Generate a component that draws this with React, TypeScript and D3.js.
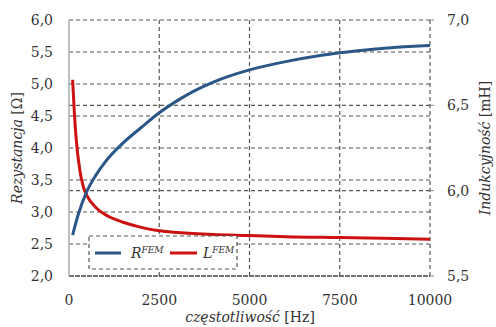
import React from 'react'
import * as d3 from 'd3'

// frequency [Hz] and resistance [Ohm]
const rFreq = [100, 250, 500, 750, 1000, 1500, 2000, 2500, 3000, 3500, 4000, 5000, 6000, 7000, 8000, 9000, 10000]
const rValues = [2.64, 2.95, 3.33, 3.58, 3.78, 4.08, 4.32, 4.55, 4.74, 4.9, 5.03, 5.22, 5.35, 5.45, 5.52, 5.57, 5.6]

// frequency [Hz] and inductance [mH]
const lFreq = [100, 150, 200, 300, 400, 500, 750, 1000, 1500, 2000, 2500, 3000, 4000, 5000, 6000, 7500, 10000]
const lValues = [6.65, 6.45, 6.3, 6.12, 6.02, 5.97, 5.9, 5.86, 5.815, 5.785, 5.765, 5.755, 5.743, 5.737, 5.73, 5.725, 5.716]

const xTicks = [0, 2500, 5000, 7500, 10000]
const leftTicks = [2.0, 2.5, 3.0, 3.5, 4.0, 4.5, 5.0, 5.5, 6.0]
const rightTicks = [5.5, 6.0, 6.5, 7.0]

const fmt = (v: number) => v.toFixed(1).replace('.', ',')

export default function App() {
  const width = 496
  const height = 327
  const m = { top: 20, right: 66, bottom: 51, left: 69 }

  const x = d3.scaleLinear().domain([0, 10000]).range([m.left, width - m.right])
  const yL = d3.scaleLinear().domain([2, 6]).range([height - m.bottom, m.top])
  const yR = d3.scaleLinear().domain([5.5, 7]).range([height - m.bottom, m.top])

  const rLine = d3
    .line<number>()
    .x((_, i) => x(rFreq[i]))
    .y((d) => yL(d))
    .curve(d3.curveMonotoneX)
  const lLine = d3
    .line<number>()
    .x((_, i) => x(lFreq[i]))
    .y((d) => yR(d))
    .curve(d3.curveMonotoneX)

  const font = '"DejaVu Serif", serif'
  const grid = '#555'
  const dash = '4,3'
  const blue = '#2b5788'
  const red = '#cc1111'
  const x0 = x(0)
  const x1 = x(10000)
  const yTop = yL(6)
  const yBot = yL(2)

  return (
    <svg width={width} height={height} style={{ position: 'absolute', left: 0, top: 0 }} fontFamily={font}>
      <rect width={width} height={height} fill="#fff" />
      {/* horizontal grid */}
      {leftTicks.slice(1).map((t) => (
        <line key={'gl' + t} x1={x0} x2={x1} y1={yL(t)} y2={yL(t)} stroke={grid} strokeDasharray={dash} strokeWidth={1.2} />
      ))}
      {rightTicks.slice(1, 3).map((t) => (
        <line key={'gr' + t} x1={x0} x2={x1} y1={yR(t)} y2={yR(t)} stroke={grid} strokeDasharray={dash} strokeWidth={1.2} />
      ))}
      {/* vertical grid */}
      {xTicks.slice(1).map((t) => (
        <line key={'gx' + t} x1={x(t)} x2={x(t)} y1={yTop} y2={yBot} stroke={grid} strokeDasharray={dash} strokeWidth={1.2} />
      ))}
      {/* axes */}
      <line x1={x0} x2={x1} y1={yBot} y2={yBot} stroke="#444" strokeDasharray="5,1" strokeWidth={1.5} />
      <line x1={x0} x2={x0} y1={yTop} y2={yBot} stroke="#aaa" strokeWidth={1.5} />
      {rightTicks.map((t) => (
        <line key={'rt' + t} x1={x1} x2={x1 + 4} y1={yR(t)} y2={yR(t)} stroke="#888" />
      ))}

      {/* series */}
      <path d={lLine(lValues) || ''} fill="none" stroke={red} strokeWidth={3} />
      <path d={rLine(rValues) || ''} fill="none" stroke={blue} strokeWidth={3} />

      {/* tick labels */}
      {leftTicks.map((t) => (
        <text key={'lt' + t} x={53} y={yL(t)} dy="0.35em" textAnchor="end" fontSize={14} fill="#333">
          {fmt(t)}
        </text>
      ))}
      {rightTicks.map((t) => (
        <text key={'rl' + t} x={447} y={yR(t)} dy="0.35em" textAnchor="start" fontSize={14} fill="#333">
          {fmt(t)}
        </text>
      ))}
      {xTicks.map((t) => (
        <text key={'xt' + t} x={x(t)} y={305} textAnchor="middle" fontSize={14} fill="#333">
          {t}
        </text>
      ))}

      {/* axis titles */}
      <text x={250} y={322} textAnchor="middle" fontSize={14} fill="#333">
        <tspan fontStyle="italic">częstotliwość</tspan> [Hz]
      </text>
      <text transform={`translate(22,${(yTop + yBot) / 2}) rotate(-90)`} textAnchor="middle" fontSize={14} fill="#333">
        <tspan fontStyle="italic">Rezystancja</tspan> [Ω]
      </text>
      <text transform={`translate(490,${(yTop + yBot) / 2}) rotate(-90)`} textAnchor="middle" fontSize={14} fill="#333">
        <tspan fontStyle="italic">Indukcyjność</tspan> [mH]
      </text>

      {/* legend */}
      <g>
        <rect x={89} y={236} width={148} height={33} fill="#fff" stroke={grid} strokeDasharray={dash} strokeWidth={1.2} />
        <line x1={95} x2={121} y1={253} y2={253} stroke={blue} strokeWidth={3} />
        <text x={131} y={258} fontSize={14} fontStyle="italic" fill="#333">
          R<tspan fontSize={9} dy={-5}>FEM</tspan>
        </text>
        <line x1={170} x2={197} y1={253} y2={253} stroke={red} strokeWidth={3} />
        <text x={203} y={258} fontSize={14} fontStyle="italic" fill="#333">
          L<tspan fontSize={9} dy={-5}>FEM</tspan>
        </text>
      </g>
    </svg>
  )
}
